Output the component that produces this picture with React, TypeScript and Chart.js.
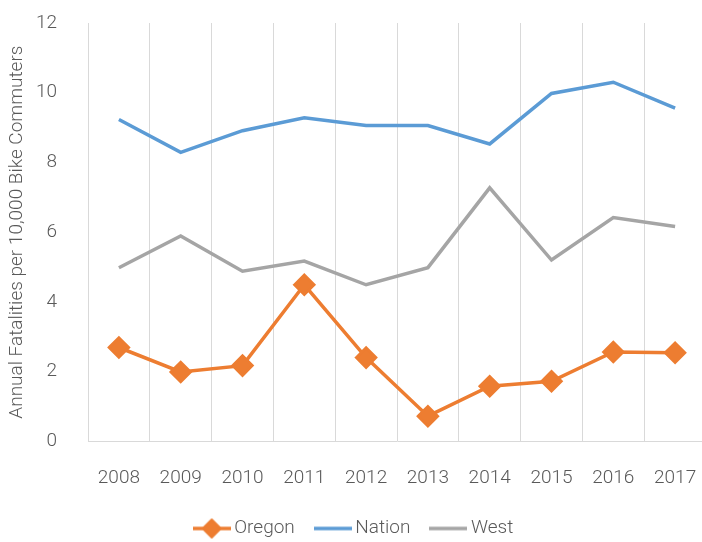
import React, { useEffect, useRef } from "react";
import { Chart, registerables } from "chart.js";

Chart.register(...registerables);

const years = ["2008", "2009", "2010", "2011", "2012", "2013", "2014", "2015", "2016", "2017"];
const oregon = [2.69, 1.99, 2.17, 4.49, 2.4, 0.72, 1.58, 1.72, 2.56, 2.54];
const nation = [9.23, 8.29, 8.91, 9.28, 9.06, 9.06, 8.53, 9.98, 10.3, 9.56];
const west = [4.98, 5.89, 4.88, 5.17, 4.49, 4.98, 7.27, 5.2, 6.42, 6.16];
const yTicks = [0, 2, 4, 6, 8, 10, 12];
const yTitle = "Annual Fatalities per 10,000 Bike Commuters";

const ORANGE = "#ED7D31";
const BLUE = "#5B9BD5";
const GRAY = "#A5A5A5";
const TEXT = "#595959";
const GRID = "#D9D9D9";
const FONT = "Roboto, 'Liberation Sans', sans-serif";

function legendIcon(color: string, diamond: boolean) {
  const c = document.createElement("canvas");
  c.width = 38;
  c.height = 22;
  const ctx = c.getContext("2d")!;
  ctx.strokeStyle = color;
  ctx.lineWidth = 3.5;
  ctx.beginPath();
  ctx.moveTo(0, 11);
  ctx.lineTo(38, 11);
  ctx.stroke();
  if (diamond) {
    ctx.fillStyle = color;
    ctx.lineJoin = "round";
    ctx.lineWidth = 2;
    ctx.beginPath();
    ctx.moveTo(19, 2);
    ctx.lineTo(28, 11);
    ctx.lineTo(19, 20);
    ctx.lineTo(10, 11);
    ctx.closePath();
    ctx.fill();
    ctx.stroke();
  }
  return c;
}

export default function App() {
  const ref = useRef<HTMLCanvasElement>(null);
  useEffect(() => {
    if (!ref.current) return;
    const icons = [legendIcon(ORANGE, true), legendIcon(BLUE, false), legendIcon(GRAY, false)];
    const chart = new Chart(ref.current, {
      type: "line",
      data: {
        labels: years,
        datasets: [
          {
            label: "Oregon",
            data: oregon,
            borderColor: ORANGE,
            backgroundColor: ORANGE,
            borderWidth: 3.5,
            pointStyle: "rectRot",
            pointRadius: 10,
            pointBorderWidth: 2.5,
            pointBackgroundColor: ORANGE,
            pointBorderColor: ORANGE,
            tension: 0,
          },
          {
            label: "Nation",
            data: nation,
            borderColor: BLUE,
            backgroundColor: BLUE,
            borderWidth: 3.5,
            pointRadius: 0,
            tension: 0,
          },
          {
            label: "West",
            data: west,
            borderColor: GRAY,
            backgroundColor: GRAY,
            borderWidth: 3.5,
            pointRadius: 0,
            tension: 0,
          },
        ],
      },
      options: {
        animation: false,
        responsive: false,
        devicePixelRatio: 1,
        layout: { autoPadding: false, padding: { left: 6, right: 2, top: 23, bottom: 0 } },
        plugins: {
          tooltip: { enabled: false },
          legend: {
            position: "bottom",
            labels: {
              usePointStyle: true,
              pointStyleWidth: 26,
              padding: 25,
              color: TEXT,
              font: { family: FONT, size: 19, weight: "300" },
              generateLabels: (ch: any) =>
                ch.data.datasets.map((ds: any, i: number) => ({
                  text: ds.label,
                  fillStyle: ds.borderColor,
                  strokeStyle: ds.borderColor,
                  lineWidth: 0,
                  pointStyle: icons[i],
                  hidden: false,
                  datasetIndex: i,
                  fontColor: TEXT,
                })),
            },
          },
        },
        scales: {
          x: {
            offset: true,
            afterFit: (s: any) => {
              s.paddingLeft = 0;
              s.paddingRight = 0;
            },
            grid: {
              display: true,
              offset: true,
              color: GRID,
              lineWidth: 1,
              drawTicks: true,
              tickLength: 21,
              tickColor: "rgba(0,0,0,0)",
            },
            border: { display: true, color: GRID, width: 1 },
            ticks: {
              color: TEXT,
              font: { family: FONT, size: 19, weight: "300", lineHeight: 1.46 },
              padding: 2,
              maxRotation: 0,
            },
          },
          y: {
            min: 0,
            max: 12,
            afterBuildTicks: (s: any) => {
              s.ticks = yTicks.map((v) => ({ value: v }));
            },
            afterFit: (s: any) => {
              s.width = 82;
            },
            grid: { display: false, drawTicks: true, tickLength: 29 },
            border: { display: false },
            ticks: { color: TEXT, font: { family: FONT, size: 19, weight: "300" }, padding: 2 },
            title: {
              display: true,
              text: yTitle,
              color: TEXT,
              font: { family: FONT, size: 19, weight: "300" },
              padding: 0,
            },
          },
        },
      },
    });
    return () => chart.destroy();
  }, []);
  return (
    <div style={{ position: "absolute", left: 0, top: 0, width: 702, height: 542, overflow: "hidden", background: "#fff" }}>
      <canvas ref={ref} width={708} height={548} style={{ display: "block" }} />
    </div>
  );
}
